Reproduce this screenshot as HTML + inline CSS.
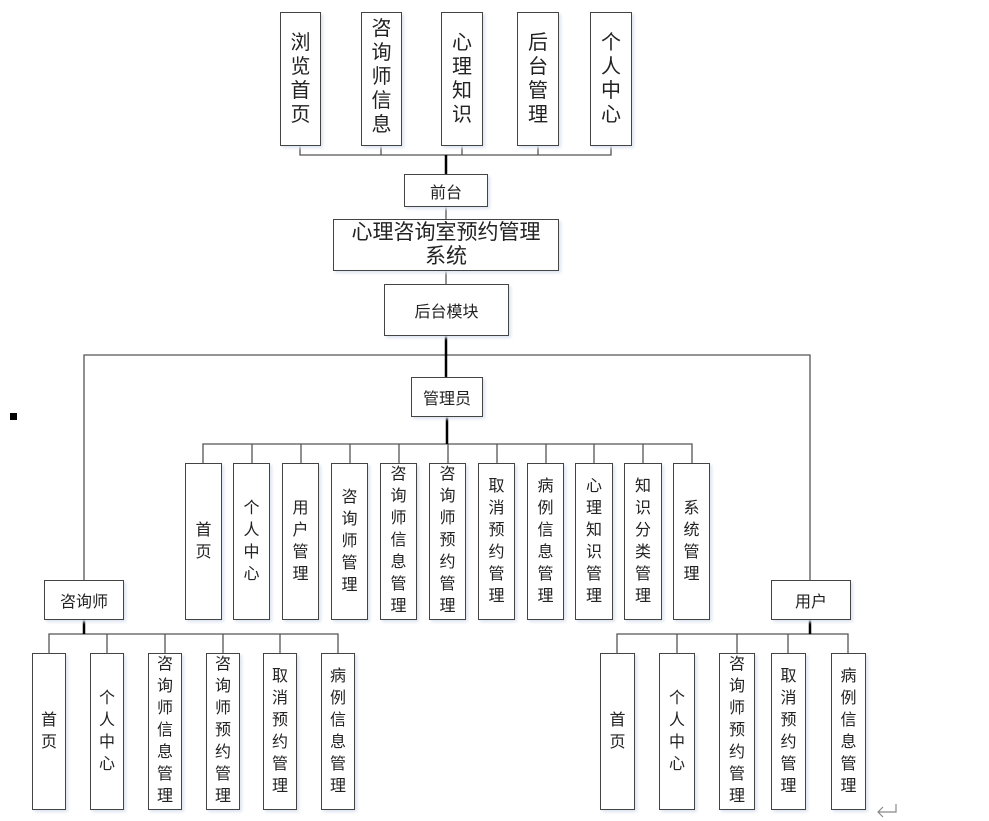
<!DOCTYPE html>
<html><head><meta charset="utf-8"><style>
body{margin:0;width:989px;height:821px;background:#fff;position:relative;overflow:hidden;font-family:"Liberation Sans","Noto Sans CJK SC",sans-serif;color:#222}
.b{position:absolute;box-sizing:border-box;border:1.5px solid #444;background:#fff;display:flex;align-items:center;justify-content:center;text-align:center;box-shadow:2px 2px 3px #dde4f0}
.v{flex-direction:column;line-height:22px;font-size:16px}
.t{line-height:24px;font-size:20px}
.h{font-size:16px}
svg{position:absolute;left:0;top:0}
</style></head><body>
<svg width="989" height="821">
<g stroke="#555" stroke-width="1.3" fill="none">
<path d="M300 146V155H611V146M381 146V155M462 146V155M538 146V155"/>
<path d="M446 207V219M446 271V284"/>
<path d="M84 580V355H810V580"/>
<path d="M203 463V444H692V463M252 444V463M301 444V463M350 444V463M399 444V463M448 444V463M497 444V463M546 444V463M594 444V463M643 444V463"/>
<path d="M49 653V634H338V653M107 634V653M165 634V653M223 634V653M280 634V653"/>
<path d="M617 653V634H848V653M677 634V653M737 634V653M788 634V653"/>
</g>
<g stroke="#000" stroke-width="2.5">
<path d="M446 155V174M446 336V377M447 417V444M84 620V634M810 620V634"/>
</g>
<rect x="10" y="413" width="7" height="7" fill="#000"/>
<path d="M896 804V812H878M883 807L878 812L883 817" stroke="#888" stroke-width="1.2" fill="none"/>
</svg>

<div class="b v t" style="left:280px;top:12px;width:41px;height:134px">浏<br>览<br>首<br>页</div>
<div class="b v t" style="left:361px;top:12px;width:41px;height:134px;justify-content:flex-start;padding-top:4px">咨<br>询<br>师<br>信<br>息</div>
<div class="b v t" style="left:441px;top:12px;width:42px;height:134px">心<br>理<br>知<br>识</div>
<div class="b v t" style="left:517px;top:12px;width:42px;height:134px">后<br>台<br>管<br>理</div>
<div class="b v t" style="left:590px;top:12px;width:42px;height:134px">个<br>人<br>中<br>心</div>

<div class="b h" style="left:404px;top:174px;width:84px;height:33px">前台</div>
<div class="b" style="left:333px;top:219px;width:226px;height:52px;font-size:21px;line-height:24px;flex-direction:column">心理咨询室预约管理<br>系统</div>
<div class="b h" style="left:384px;top:284px;width:125px;height:52px">后台模块</div>
<div class="b h" style="left:411px;top:377px;width:72px;height:40px">管理员</div>

<div class="b v" style="left:185px;top:463px;width:37px;height:157px">首<br>页</div>
<div class="b v" style="left:233px;top:463px;width:37px;height:157px">个<br>人<br>中<br>心</div>
<div class="b v" style="left:282px;top:463px;width:37px;height:157px">用<br>户<br>管<br>理</div>
<div class="b v" style="left:331px;top:463px;width:37px;height:157px">咨<br>询<br>师<br>管<br>理</div>
<div class="b v" style="left:380px;top:463px;width:37px;height:157px;justify-content:flex-start;line-height:22px">咨<br>询<br>师<br>信<br>息<br>管<br>理</div>
<div class="b v" style="left:429px;top:463px;width:37px;height:157px;justify-content:flex-start">咨<br>询<br>师<br>预<br>约<br>管<br>理</div>
<div class="b v" style="left:478px;top:463px;width:37px;height:157px">取<br>消<br>预<br>约<br>管<br>理</div>
<div class="b v" style="left:527px;top:463px;width:37px;height:157px">病<br>例<br>信<br>息<br>管<br>理</div>
<div class="b v" style="left:575px;top:463px;width:38px;height:157px">心<br>理<br>知<br>识<br>管<br>理</div>
<div class="b v" style="left:624px;top:463px;width:38px;height:157px">知<br>识<br>分<br>类<br>管<br>理</div>
<div class="b v" style="left:673px;top:463px;width:37px;height:157px">系<br>统<br>管<br>理</div>

<div class="b h" style="left:44px;top:580px;width:80px;height:40px">咨询师</div>
<div class="b h" style="left:771px;top:580px;width:80px;height:40px">用户</div>

<div class="b v" style="left:32px;top:653px;width:34px;height:157px">首<br>页</div>
<div class="b v" style="left:90px;top:653px;width:34px;height:157px">个<br>人<br>中<br>心</div>
<div class="b v" style="left:148px;top:653px;width:34px;height:157px;justify-content:flex-start">咨<br>询<br>师<br>信<br>息<br>管<br>理</div>
<div class="b v" style="left:206px;top:653px;width:34px;height:157px;justify-content:flex-start">咨<br>询<br>师<br>预<br>约<br>管<br>理</div>
<div class="b v" style="left:263px;top:653px;width:34px;height:157px">取<br>消<br>预<br>约<br>管<br>理</div>
<div class="b v" style="left:321px;top:653px;width:34px;height:157px">病<br>例<br>信<br>息<br>管<br>理</div>

<div class="b v" style="left:600px;top:653px;width:35px;height:157px">首<br>页</div>
<div class="b v" style="left:659px;top:653px;width:36px;height:157px">个<br>人<br>中<br>心</div>
<div class="b v" style="left:719px;top:653px;width:36px;height:157px;justify-content:flex-start">咨<br>询<br>师<br>预<br>约<br>管<br>理</div>
<div class="b v" style="left:771px;top:653px;width:35px;height:157px">取<br>消<br>预<br>约<br>管<br>理</div>
<div class="b v" style="left:831px;top:653px;width:35px;height:157px">病<br>例<br>信<br>息<br>管<br>理</div>
</body></html>
